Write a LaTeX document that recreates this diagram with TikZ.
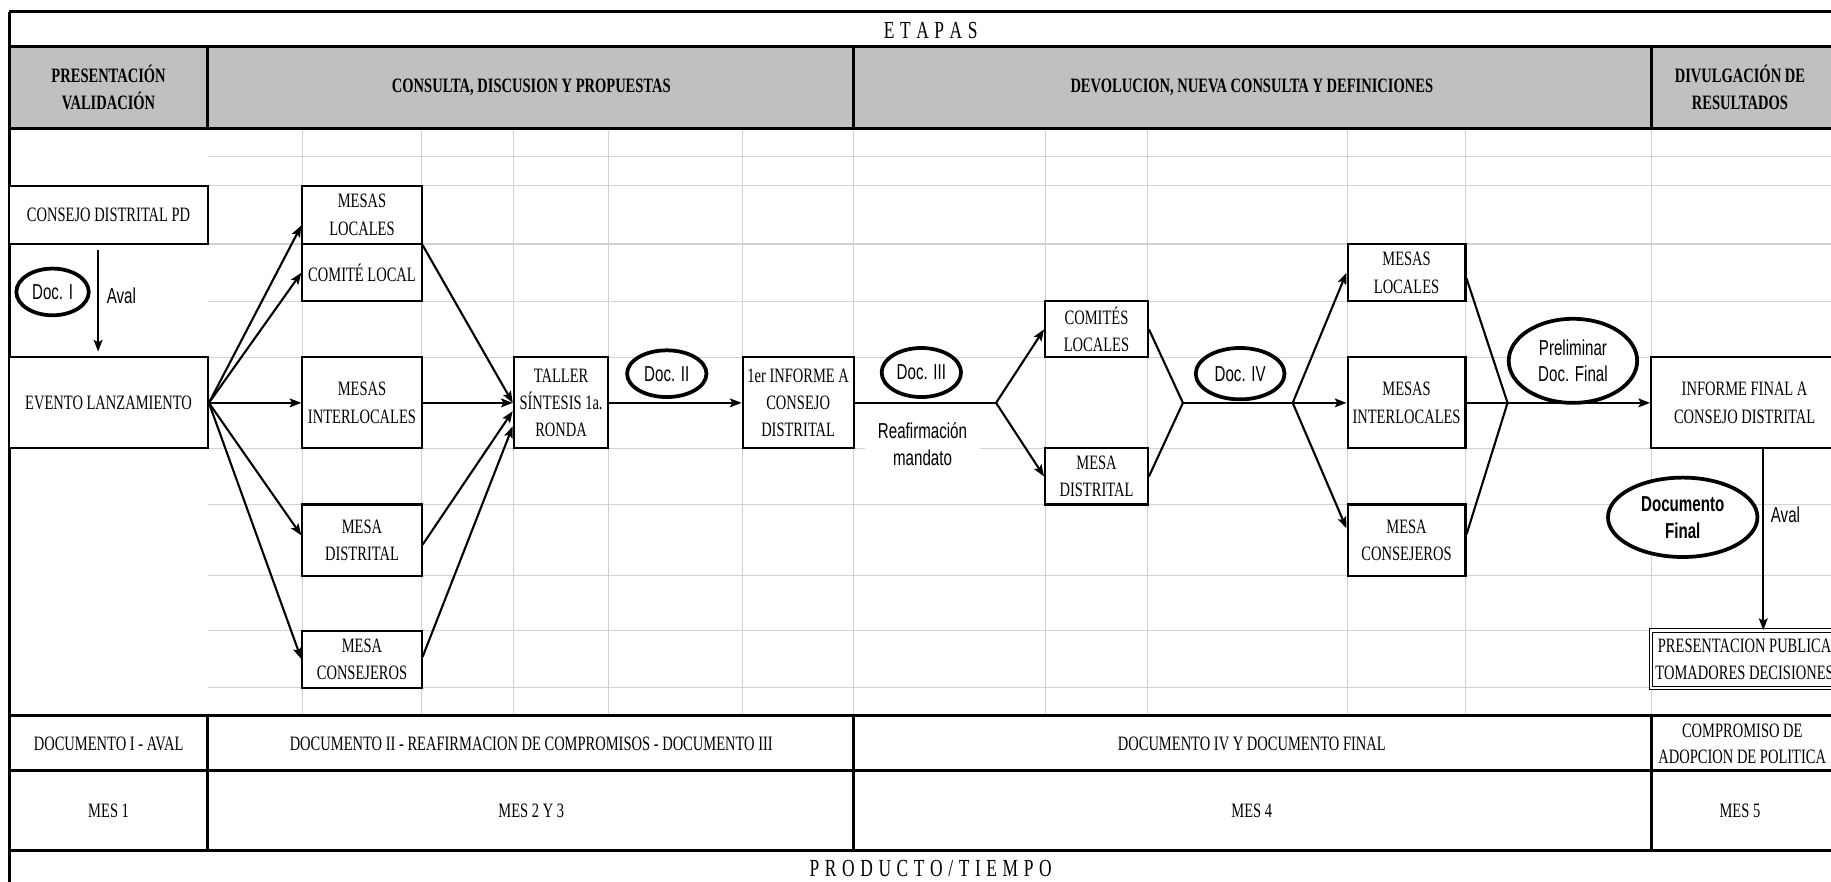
\documentclass[tikz,border=0pt]{standalone}
\usepackage{fontspec}
\setmainfont{Liberation Serif}[FakeStretch=0.71]
\newfontfamily\narrowsans{Liberation Sans}[FakeStretch=0.7]
\usetikzlibrary{arrows.meta,shapes.geometric}

\definecolor{grisfondo}{HTML}{C0C0C0}
\definecolor{grisrejilla}{HTML}{D2D2D2}
\newcommand{\letra}{\fontsize{17.5}{23.5}\selectfont}
\newcommand{\letraesp}{\fontsize{21}{24}\selectfont\spaceskip 4.8pt\relax}
\newcommand{\letrasans}{\narrowsans\fontsize{18.5}{23}\selectfont}

\begin{document}
\begin{tikzpicture}[x=1pt,y=-1pt]
	\tikzstyle{Caja}      = [draw, line width=1.8pt, fill=white, align=center, inner sep=0pt, font=\letra]
	\tikzstyle{Doc}       = [ellipse, draw, line width=3.2pt, fill=white, align=center, inner sep=0pt, font=\letrasans]
	\tikzstyle{Etiqueta}  = [align=center, fill=white, inner sep=2pt, font=\letrasans]
	\tikzstyle{Celda}     = [align=center, inner sep=0pt, font=\letra]
	\tikzstyle{Espaciado} = [Celda, font=\letraesp]
	\tikzstyle{Flecha}    = [line width=1.8pt, ->, >={Stealth[length=10pt,width=7.5pt,inset=2pt]}]
	\tikzstyle{Linea}     = [line width=1.8pt]
	\tikzstyle{Rejilla}   = [draw=grisrejilla, line width=1pt]
	\tikzstyle{Marco}     = [line width=2.4pt]

	\useasboundingbox (0,0) rectangle (1568,755);

	% tabla
	\fill[grisfondo] (8,40) rectangle (1580,110);
	\foreach \y in {134,159,209,258,306,384,432,493,540,589}
		\draw[Rejilla] (178,\y) -- (1580,\y);
	\foreach \x in {259,361,440,521,636,731,895,983,1154,1255,1414}
		\draw[Rejilla] (\x,110) -- (\x,613);
	\foreach \y in {10,40,110,613,660,728}
		\draw[Marco] (8,\y) -- (1580,\y);
	\draw[Marco] (8,10) -- (8,760);
	\foreach \x in {178,731,1414} {
		\draw[Marco] (\x,40) -- (\x,110);
		\draw[Marco] (\x,613) -- (\x,728);
	}

	\node[Espaciado] (etapas) at (797,26) {E T A P A S};
	\node[Celda, font=\letra\bfseries] (fase1) at (93,75) {PRESENTACIÓN\\VALIDACIÓN};
	\node[Celda, font=\letra\bfseries] (fase2) at (455,75) {CONSULTA, DISCUSION Y PROPUESTAS};
	\node[Celda, font=\letra\bfseries] (fase3) at (1072,75) {DEVOLUCION, NUEVA CONSULTA Y DEFINICIONES};
	\node[Celda, font=\letra\bfseries] (fase4) at (1490,75) {DIVULGACIÓN DE\\RESULTADOS};

	\node[Celda] (prod1) at (93,637) {DOCUMENTO I - AVAL};
	\node[Celda] (prod2) at (455,637) {DOCUMENTO II - REAFIRMACION DE COMPROMISOS - DOCUMENTO III};
	\node[Celda] (prod3) at (1072,637) {DOCUMENTO IV Y DOCUMENTO FINAL};
	\node[Celda, font=\fontsize{17.5}{22}\selectfont] (prod4) at (1492,637) {COMPROMISO DE\\ADOPCION DE POLITICA};
	\node[Celda] (mes1) at (93,694) {MES 1};
	\node[Celda] (mes2) at (455,694) {MES 2 Y 3};
	\node[Celda] (mes3) at (1072,694) {MES 4};
	\node[Celda] (mes4) at (1490,694) {MES 5};
	\node[Espaciado] (tiempo) at (797,744) {P R O D U C T O / T I E M P O};

	% cajas
	\node[Caja, minimum width=170pt, minimum height=50pt] (consejo) at (93,184) {CONSEJO DISTRITAL PD};
	\node[Caja, minimum width=170pt, minimum height=78pt] (evento) at (93,345) {EVENTO LANZAMIENTO};
	\node[Caja, minimum width=102pt, minimum height=50pt] (mesasLoc) at (310,184) {MESAS\\LOCALES};
	\node[Caja, minimum width=102pt, minimum height=49pt] (comite) at (310,233.5) {COMITÉ LOCAL};
	\node[Caja, minimum width=102pt, minimum height=78pt] (mesasInter) at (310,345) {MESAS\\INTERLOCALES};
	\node[Caja, minimum width=102pt, minimum height=61pt] (mesaDist) at (310,462.5) {MESA\\DISTRITAL};
	\node[Caja, minimum width=102pt, minimum height=49pt] (mesaCons) at (310,564.5) {MESA\\CONSEJEROS};
	\node[Caja, minimum width=81pt, minimum height=78pt] (taller) at (480.5,345) {TALLER\\SÍNTESIS 1a.\\RONDA};
	\node[Caja, minimum width=95pt, minimum height=78pt] (informe) at (683.5,345) {1er INFORME A\\CONSEJO\\DISTRITAL};
	\node[Caja, minimum width=88pt, minimum height=48pt] (comites) at (939,282) {COMITÉS\\LOCALES};
	\node[Caja, minimum width=88pt, minimum height=48pt] (mesaDistB) at (939,408) {MESA\\DISTRITAL};
	\node[Caja, minimum width=101pt, minimum height=49pt] (mesasLocB) at (1204.5,233.5) {MESAS\\LOCALES};
	\node[Caja, minimum width=101pt, minimum height=78pt] (mesasInterB) at (1204.5,345) {MESAS\\INTERLOCALES};
	\node[Caja, minimum width=101pt, minimum height=61pt] (mesaConsB) at (1204.5,462.5) {MESA\\CONSEJEROS};
	\node[Caja, minimum width=160pt, minimum height=78pt] (informeFinal) at (1494,345) {INFORME FINAL A\\CONSEJO DISTRITAL};
	\node[Caja, double, line width=0.8pt, double distance=2pt, minimum width=160pt, minimum height=49pt] (presentacion) at (1494,564.5) {PRESENTACION PUBLICA\\TOMADORES DECISIONES};

	% documentos
	\node[Doc, minimum width=62pt, minimum height=40pt] (docI) at (45,250) {Doc. I};
	\node[Doc, minimum width=68pt, minimum height=40pt] (docII) at (571,320) {Doc. II};
	\node[Doc, minimum width=68pt, minimum height=42pt] (docIII) at (789,319) {Doc. III};
	\node[Doc, minimum width=76pt, minimum height=44pt] (docIV) at (1062,320) {Doc. IV};
	\node[Doc, minimum width=110pt, minimum height=72pt] (prelim) at (1347,309) {Preliminar\\Doc. Final};
	\node[Doc, minimum width=128pt, minimum height=68pt, font=\letrasans\bfseries] (docFinal) at (1441,443) {Documento\\Final};
	\node[Etiqueta] (avalA) at (104,253) {Aval};
	\node[Etiqueta, inner xsep=6pt] (avalB) at (1529,441) {Aval};
	\node[Etiqueta, minimum width=98pt] (reaf) at (790,380) {Reafirmación\\mandato};

	\coordinate (rama1) at (853,345);
	\coordinate (union1) at (1013,345);
	\coordinate (rama2) at (1107,345);
	\coordinate (union2) at (1291,345);

	% conexiones
	\draw[Flecha, shorten <=4pt, shorten >=4pt] ([xshift=-9pt]consejo.south) -- ([xshift=-9pt]evento.north);
	\draw[Flecha] (evento.east) -- ([yshift=-9pt]mesasLoc.west);
	\draw[Flecha] (evento.east) -- (comite.west);
	\draw[Flecha] (evento.east) -- (mesasInter.west);
	\draw[Flecha] (evento.east) -- ([yshift=4pt]mesaDist.west);
	\draw[Flecha] (evento.east) -- (mesaCons.west);
	\draw[Flecha] (mesasLoc.south east) -- (taller.west);
	\draw[Flecha] (mesasInter.east) -- (taller.west);
	\draw[Flecha] ([yshift=-4pt]mesaDist.east) -- ([yshift=-7pt]taller.west);
	\draw[Flecha] ([yshift=2pt]mesaCons.east) -- ([yshift=-20pt]taller.west);
	\draw[Flecha] (taller.east) -- (informe.west);
	\draw[Linea] (informe.east) -- (rama1);
	\draw[Flecha] (rama1) -- (comites.west);
	\draw[Flecha] (rama1) -- (mesaDistB.west);
	\draw[Linea] (comites.east) -- (union1) -- (mesaDistB.east);
	\draw[Linea] (union1) -- (rama2);
	\draw[Flecha] (rama2) -- (mesasLocB.west);
	\draw[Flecha] (rama2) -- (mesasInterB.west);
	\draw[Flecha] (rama2) -- ([yshift=10pt]mesaConsB.west);
	\draw[Linea] ([yshift=-5pt]mesasLocB.east) -- (union2) -- ([yshift=5pt]mesaConsB.east);
	\draw[Linea] (mesasInterB.east) -- (union2);
	\draw[Flecha] (union2) -- (informeFinal.west);
	\draw[Flecha] ([xshift=16pt]informeFinal.south) -- ([xshift=16pt]presentacion.north);
\end{tikzpicture}
\end{document}
